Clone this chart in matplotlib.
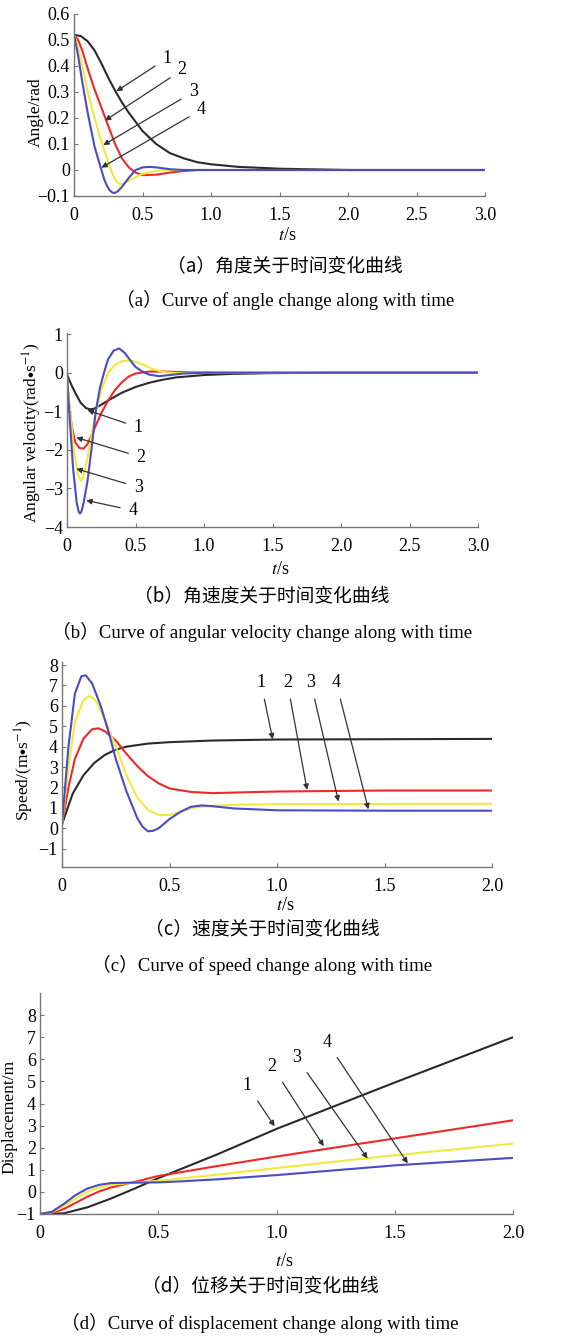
import matplotlib
matplotlib.use("Agg")
import matplotlib.pyplot as plt

plt.rcParams['font.family'] = ['Liberation Serif', 'Noto Sans CJK SC', 'DejaVu Sans']
plt.rcParams['mathtext.fontset'] = 'stix'

W, H = 571, 1337

# ---------------- data ----------------
curve_names = ["1", "2", "3", "4"]
colors = ["#2a2a2a", "#f02828", "#f0ea3a", "#4b4bc4"]

# (a) angle
a_t1 = [0, 0.05, 0.1, 0.15, 0.2, 0.25, 0.3, 0.35, 0.4, 0.5, 0.6, 0.7, 0.8, 0.9, 1.0, 1.2, 1.5, 2.0, 3.0]
a_v1 = [0.52, 0.515, 0.495, 0.46, 0.41, 0.355, 0.305, 0.26, 0.22, 0.15, 0.1, 0.065, 0.045, 0.03, 0.022, 0.012, 0.005, 0.0, 0.0]
a_t2 = [0, 0.03, 0.06, 0.1, 0.15, 0.2, 0.25, 0.3, 0.35, 0.4, 0.45, 0.5, 0.6, 0.7, 0.8, 0.9, 3.0]
a_v2 = [0.52, 0.5, 0.46, 0.39, 0.31, 0.24, 0.17, 0.1, 0.045, 0.01, -0.01, -0.02, -0.018, -0.01, -0.004, 0.0, 0.0]
a_t3 = [0, 0.03, 0.06, 0.1, 0.15, 0.2, 0.25, 0.28, 0.31, 0.34, 0.37, 0.42, 0.5, 0.6, 0.7, 1.0, 3.0]
a_v3 = [0.52, 0.47, 0.4, 0.3, 0.2, 0.11, 0.03, -0.015, -0.045, -0.055, -0.05, -0.035, -0.015, -0.003, 0.0, 0.0, 0.0]
a_t4 = [0, 0.03, 0.06, 0.1, 0.15, 0.2, 0.22, 0.24, 0.26, 0.28, 0.3, 0.32, 0.35, 0.4, 0.45, 0.5, 0.55, 0.6, 0.7, 0.8, 1.0, 3.0]
a_v4 = [0.52, 0.44, 0.34, 0.22, 0.09, 0.0, -0.035, -0.06, -0.078, -0.087, -0.088, -0.082, -0.065, -0.03, 0.0, 0.01, 0.012, 0.01, 0.003, 0.0, 0.0, 0.0]

# (b) angular velocity
b_t1 = [0, 0.03, 0.06, 0.1, 0.14, 0.17, 0.2, 0.25, 0.3, 0.4, 0.5, 0.6, 0.7, 0.8, 1.0, 1.2, 1.5, 2.0, 3.0]
b_v1 = [-0.05, -0.3, -0.52, -0.78, -0.92, -0.95, -0.93, -0.83, -0.72, -0.52, -0.37, -0.26, -0.18, -0.12, -0.06, -0.03, -0.01, 0.0, 0.0]
b_t2 = [0, 0.015, 0.035, 0.06, 0.09, 0.12, 0.15, 0.2, 0.25, 0.3, 0.35, 0.4, 0.45, 0.5, 0.6, 0.7, 0.9, 1.2, 3.0]
b_v2 = [-0.1, -0.8, -1.4, -1.8, -1.95, -1.97, -1.85, -1.45, -1.05, -0.72, -0.45, -0.25, -0.1, -0.02, 0.03, 0.03, 0.01, 0.0, 0.0]
b_t3 = [0, 0.02, 0.05, 0.08, 0.1, 0.12, 0.15, 0.2, 0.25, 0.3, 0.35, 0.4, 0.47, 0.55, 0.62, 0.7, 0.8, 1.0, 3.0]
b_v3 = [-0.1, -0.9, -2.0, -2.65, -2.8, -2.7, -2.2, -1.2, -0.45, 0.0, 0.2, 0.3, 0.32, 0.22, 0.1, 0.02, -0.01, 0.0, 0.0]
b_t4 = [0, 0.02, 0.045, 0.07, 0.085, 0.095, 0.105, 0.12, 0.15, 0.18, 0.21, 0.24, 0.27, 0.3, 0.34, 0.38, 0.42, 0.46, 0.5, 0.55, 0.6, 0.67, 0.75, 0.85, 1.0, 3.0]
b_v4 = [-0.1, -1.2, -2.5, -3.35, -3.6, -3.65, -3.6, -3.4, -2.8, -1.95, -1.0, -0.4, 0.0, 0.35, 0.57, 0.63, 0.52, 0.33, 0.15, 0.03, -0.05, -0.09, -0.06, -0.02, 0.0, 0.0]

# (c) speed
c_t1 = [0, 0.05, 0.1, 0.15, 0.2, 0.25, 0.3, 0.4, 0.5, 0.7, 1.0, 2.0]
c_v1 = [0.2, 1.7, 2.6, 3.2, 3.6, 3.85, 4.0, 4.15, 4.22, 4.3, 4.35, 4.38]
c_t2 = [0, 0.03, 0.06, 0.1, 0.14, 0.17, 0.2, 0.25, 0.3, 0.35, 0.4, 0.45, 0.5, 0.6, 0.7, 0.8, 1.0, 1.5, 2.0]
c_v2 = [0.2, 2.0, 3.4, 4.4, 4.85, 4.9, 4.75, 4.3, 3.65, 3.05, 2.55, 2.2, 1.95, 1.78, 1.72, 1.75, 1.8, 1.85, 1.85]
c_t3 = [0, 0.03, 0.06, 0.1, 0.13, 0.16, 0.2, 0.25, 0.3, 0.35, 0.4, 0.45, 0.5, 0.55, 0.6, 0.7, 0.8, 1.0, 2.0]
c_v3 = [0.2, 3.0, 5.2, 6.3, 6.5, 6.2, 5.3, 4.0, 2.6, 1.5, 0.9, 0.65, 0.65, 0.8, 1.0, 1.1, 1.15, 1.18, 1.2]
c_t4 = [0, 0.03, 0.06, 0.09, 0.11, 0.14, 0.18, 0.22, 0.25, 0.3, 0.35, 0.375, 0.4, 0.425, 0.45, 0.5, 0.55, 0.6, 0.65, 0.7, 0.8, 1.0, 1.5, 2.0]
c_v4 = [0.2, 4.0, 6.6, 7.45, 7.5, 7.1, 6.0, 4.6, 3.4, 1.8, 0.5, 0.07, -0.15, -0.12, 0.0, 0.45, 0.8, 1.05, 1.12, 1.08, 0.97, 0.88, 0.86, 0.86]

# (d) displacement
d_t1 = [0, 0.1, 0.2, 0.3, 0.4, 0.5, 0.75, 1.0, 1.5, 2.0]
d_v1 = [-1.0, -0.97, -0.7, -0.3, 0.15, 0.62, 1.7, 2.85, 4.95, 7.0]
d_t2 = [0, 0.05, 0.1, 0.15, 0.2, 0.25, 0.3, 0.4, 0.5, 0.75, 1.0, 1.5, 2.0]
d_v2 = [-1.0, -0.95, -0.78, -0.5, -0.22, 0.02, 0.2, 0.45, 0.72, 1.17, 1.6, 2.42, 3.24]
d_t3 = [0, 0.05, 0.1, 0.15, 0.2, 0.25, 0.3, 0.4, 0.5, 0.75, 1.0, 1.5, 2.0]
d_v3 = [-1.0, -0.92, -0.65, -0.3, 0.0, 0.2, 0.32, 0.42, 0.5, 0.78, 1.08, 1.66, 2.18]
d_t4 = [0, 0.05, 0.1, 0.15, 0.2, 0.25, 0.3, 0.4, 0.5, 0.6, 0.75, 1.0, 1.5, 2.0]
d_v4 = [-1.0, -0.9, -0.55, -0.15, 0.15, 0.32, 0.4, 0.42, 0.43, 0.48, 0.57, 0.76, 1.2, 1.54]

# annotation label positions and arrow tips (data coords)
a_text = [(0.68, 0.43), (0.79, 0.385), (0.87, 0.30), (0.93, 0.232)]
a_tips = [(0.31, 0.303), (0.226, 0.19), (0.214, 0.096), (0.2, 0.009)]
b_text = [(0.52, -1.42), (0.54, -2.19), (0.52, -2.97), (0.48, -3.57)]
b_tips = [(0.15, -0.97), (0.068, -1.68), (0.068, -2.49), (0.14, -3.31)]
c_text = [(0.925, 7.15), (1.048, 7.15), (1.157, 7.15), (1.275, 7.15)]
c_tips = [(0.98, 4.36), (1.14, 1.88), (1.286, 1.31), (1.425, 0.93)]
d_text = [(0.876, 4.82), (0.982, 5.68), (1.085, 6.07), (1.213, 6.78)]
d_tips = [(0.992, 2.97), (1.2, 2.07), (1.385, 1.51), (1.555, 1.29)]

a_xticks = [0, 0.5, 1.0, 1.5, 2.0, 2.5, 3.0]
a_xlabels = ["0", "0.5", "1.0", "1.5", "2.0", "2.5", "3.0"]
a_yticks = [-0.1, 0, 0.1, 0.2, 0.3, 0.4, 0.5, 0.6]
a_ylabels = ["\u22120.1", "0", "0.1", "0.2", "0.3", "0.4", "0.5", "0.6"]
b_yticks = [-4, -3, -2, -1, 0, 1]
b_ylabels = ["\u22124", "\u22123", "\u22122", "\u22121", "0", "1"]
cd_xticks = [0, 0.5, 1.0, 1.5, 2.0]
cd_xlabels = ["0", "0.5", "1.0", "1.5", "2.0"]
c_yticks = [-1, 0, 1, 2, 3, 4, 5, 6, 7, 8]
c_ylabels = ["\u22121", "0", "1", "2", "3", "4", "5", "6", "7", "8"]
d_yticks = [-1, 0, 1, 2, 3, 4, 5, 6, 7, 8]
d_ylabels = ["\u22121", "0", "1", "2", "3", "4", "5", "6", "7", "8"]

ylabels = ["Angle/rad", r"Angular velocity(rad$\bullet$s$^{-1}$)", r"Speed/(m$\bullet$s$^{-1}$)", "Displacement/m"]
cn_caps = ["（a）角度关于时间变化曲线", "（b）角速度关于时间变化曲线", "（c）速度关于时间变化曲线", "（d）位移关于时间变化曲线"]
en_caps = ["（a）Curve of angle change along with time",
           "（b）Curve of angular velocity change along with time",
           "（c）Curve of speed change along with time",
           "（d）Curve of displacement change along with time"]

fig = plt.figure(figsize=(W / 100, H / 100), dpi=100)
fig.patch.set_facecolor("white")


def add_ax(l, t, r, b):
    return fig.add_axes([l / W, 1 - b / H, (r - l) / W, (b - t) / H])


def fx(x):
    return x / W


def fy(y):
    return 1 - y / H


def style(ax):
    for s in ("top", "right"):
        ax.spines[s].set_visible(False)
    for s in ("left", "bottom"):
        ax.spines[s].set_color("#777777")
        ax.spines[s].set_linewidth(1.0)
    ax.tick_params(direction="in", length=3, width=0.8, color="#777777",
                   labelsize=13, pad=3)
    ax.set_facecolor("white")


def draw(ax, series, texts, tips):
    for (t, v), c in zip(series, colors):
        ax.plot(t, v, color=c, lw=1.5, solid_capstyle="round", solid_joinstyle="round")
    for name, tx, tp in zip(curve_names, texts, tips):
        ax.annotate(name, xy=tp, xytext=tx, fontsize=13, ha="center", va="center",
                    arrowprops=dict(arrowstyle="-|>", color="#333333", lw=0.9,
                                    mutation_scale=8, shrinkA=4, shrinkB=0))


panels = [
    dict(box=(74, 14, 485, 196), xlim=(0, 3.0), ylim=(-0.1, 0.6),
         series=[(a_t1, a_v1), (a_t2, a_v2), (a_t3, a_v3), (a_t4, a_v4)],
         texts=a_text, tips=a_tips, xt=(a_xticks, a_xlabels), yt=(a_yticks, a_ylabels),
         ylab_xy=(36, 112), tlab_y=235, cn_y=267, en_y=300, cap_x=285),
    dict(box=(67, 333, 478, 527), xlim=(0, 3.0), ylim=(-4, 1.03),
         series=[(b_t1, b_v1), (b_t2, b_v2), (b_t3, b_v3), (b_t4, b_v4)],
         texts=b_text, tips=b_tips, xt=(a_xticks, a_xlabels), yt=(b_yticks, b_ylabels),
         ylab_xy=(32, 433), tlab_y=570, cn_y=597, en_y=632, cap_x=262),
    dict(box=(62, 662, 492, 867), xlim=(0, 2.0), ylim=(-1.9, 8.15),
         series=[(c_t1, c_v1), (c_t2, c_v2), (c_t3, c_v3), (c_t4, c_v4)],
         texts=c_text, tips=c_tips, xt=(cd_xticks, cd_xlabels), yt=(c_yticks, c_ylabels),
         ylab_xy=(24, 770), tlab_y=905, cn_y=930, en_y=965, cap_x=262),
    dict(box=(40, 993, 513, 1214), xlim=(0, 2.0), ylim=(-1, 9),
         series=[(d_t1, d_v1), (d_t2, d_v2), (d_t3, d_v3), (d_t4, d_v4)],
         texts=d_text, tips=d_tips, xt=(cd_xticks, cd_xlabels), yt=(d_yticks, d_ylabels),
         ylab_xy=(9, 1117), tlab_y=1262, cn_y=1287, en_y=1323, cap_x=260),
]

for p, ylab, cn, en in zip(panels, ylabels, cn_caps, en_caps):
    l, t, r, b = p["box"]
    ax = add_ax(l, t, r, b)
    style(ax)
    draw(ax, p["series"], p["texts"], p["tips"])
    ax.set_xlim(*p["xlim"])
    ax.set_ylim(*p["ylim"])
    ax.set_xticks(p["xt"][0])
    ax.set_xticklabels(p["xt"][1])
    ax.set_yticks(p["yt"][0])
    ax.set_yticklabels(p["yt"][1])
    ax.tick_params(axis="x", pad=8)
    fig.text(fx(p["ylab_xy"][0]), fy(p["ylab_xy"][1]), ylab, rotation=90,
             ha="center", va="center", fontsize=12.5)
    fig.text(fx((l + r) / 2 + 8), fy(p["tlab_y"]), "$t$/s", ha="center", va="center",
             fontsize=13)
    fig.text(fx(p["cap_x"]), fy(p["cn_y"]), cn, ha="center", va="center", fontsize=13.5,
             family=["Noto Sans CJK SC", "DejaVu Sans"])
    fig.text(fx(p["cap_x"]), fy(p["en_y"]), en, ha="center", va="center", fontsize=13.5,
             family=["Liberation Serif", "Noto Sans CJK SC"])

fig.savefig("out.png", dpi=100, facecolor="white")
